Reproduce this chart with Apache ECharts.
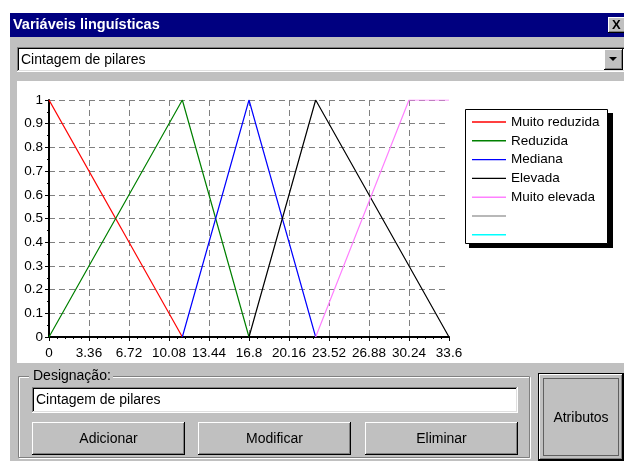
<!DOCTYPE html>
<html><head><meta charset="utf-8">
<script src="https://cdn.jsdelivr.net/npm/echarts@6/dist/echarts.min.js"></script>
<style>html,body{margin:0;padding:0;background:#fff}#c{width:624px;height:461px}</style>
</head><body><div id="c"></div><script>
// ---- data ----
const seriesNames = ['Muito reduzida', 'Reduzida', 'Mediana', 'Elevada', 'Muito elevada', 'Série 6', 'Série 7'];
const muitoReduzida = [[0, 1], [11.2, 0]];
const reduzida = [[0, 0], [11.2, 1], [16.8, 0]];
const mediana = [[11.2, 0], [16.8, 1], [22.4, 0]];
const elevada = [[16.8, 0], [22.4, 1], [33.6, 0]];
const muitoElevada = [[22.4, 0], [30.24, 1], [33.6, 1]];
const serie6 = [];
const serie7 = [];
const xTicks = [0, 3.36, 6.72, 10.08, 13.44, 16.8, 20.16, 23.52, 26.88, 30.24, 33.6];
const yTicks = [0, 0.1, 0.2, 0.3, 0.4, 0.5, 0.6, 0.7, 0.8, 0.9, 1];
const windowTitle = 'Variáveis linguísticas';
const variableName = 'Cintagem de pilares';
const groupLabel = 'Designação:';
const buttonLabels = ['Adicionar', 'Modificar', 'Eliminar'];
const sideButtonLabel = 'Atributos';

// ---- window chrome (graphic elements) ----
const FONT = '"Liberation Sans", Arial, sans-serif';
const G = [];
function px(x, y, w, h, c, z) { G.push({type: 'rect', silent: true, z: z == null ? -8 : z, shape: {x: x, y: y, width: w, height: h}, style: {fill: c}}); }
function sunken(x, y, w, h) {
  px(x, y, w, 1, '#808080', -6); px(x, y, 1, h, '#808080', -6);
  px(x, y + h - 1, w, 1, '#ffffff', -6); px(x + w - 1, y, 1, h, '#ffffff', -6);
  px(x + 1, y + 1, w - 2, 1, '#000000', -6); px(x + 1, y + 1, 1, h - 2, '#000000', -6);
  px(x + 1, y + h - 2, w - 2, 1, '#dfdfdf', -6); px(x + w - 2, y + 1, 1, h - 2, '#dfdfdf', -6);
}
function raised(x, y, w, h) {
  px(x, y, w, h, '#c0c0c0', -7);
  px(x, y, w, 1, '#ffffff', -6); px(x, y, 1, h, '#ffffff', -6);
  px(x, y + h - 1, w, 1, '#000000', -6); px(x + w - 1, y, 1, h, '#000000', -6);
  px(x + 1, y + h - 2, w - 2, 1, '#808080', -6); px(x + w - 2, y + 1, 1, h - 2, '#808080', -6);
}
function txt(s, x, y, opt) {
  opt = opt || {};
  G.push({type: 'text', silent: true, z: -5, style: {text: s, x: x, y: y, fill: opt.fill || '#000',
    font: (opt.weight || 'normal') + ' ' + (opt.size || 14) + 'px ' + FONT,
    textAlign: opt.align || 'left', textVerticalAlign: 'middle'}});
}
// dialog body
px(10, 13, 614, 448, '#c0c0c0', -9);
// title bar
px(10, 13, 614, 24, '#000080');
txt(windowTitle, 13, 25, {fill: '#fff', weight: 'bold', size: 14.5});
raised(608, 17, 18, 16);
txt('X', 612, 25.5, {weight: 'bold', size: 13});
// combo box
px(17, 47, 610, 25, '#ffffff');
sunken(17, 47, 610, 25);
txt(variableName, 21, 60, {size: 14});
raised(604, 49, 19, 21);
G.push({type: 'polygon', silent: true, z: -5, shape: {points: [[609, 57], [617, 57], [613, 61]]}, style: {fill: '#000'}});
// chart panel
px(17, 81, 607, 282, '#ffffff');
// group box
G.push({type: 'rect', silent: true, z: -6, shape: {x: 19.5, y: 377.5, width: 511, height: 81}, style: {fill: null, stroke: '#ffffff', lineWidth: 1}});
G.push({type: 'rect', silent: true, z: -6, shape: {x: 18.5, y: 376.5, width: 511, height: 81}, style: {fill: null, stroke: '#808080', lineWidth: 1}});
px(29, 368, 84, 16, '#c0c0c0', -5.5);
txt(groupLabel, 33, 376, {size: 14});
// text input
px(32, 387, 486, 26, '#ffffff');
sunken(32, 387, 486, 26);
txt(variableName, 36, 400, {size: 14});
// buttons
const bx = [32, 198, 365];
buttonLabels.forEach(function (b, i) {
  raised(bx[i], 422, 153, 33);
  txt(b, bx[i] + 76.5, 439, {size: 14, align: 'center'});
});
// side button (default, focused)
px(538, 373, 86, 88, '#000000', -7.5);
raised(539, 374, 84, 86);
px(538, 373, 86, 1, '#000000', -5.8); px(538, 373, 1, 88, '#000000', -5.8);
G.push({type: 'rect', silent: true, z: -5, shape: {x: 543.5, y: 378.5, width: 75, height: 77}, style: {fill: null, stroke: '#000', lineWidth: 1, lineDash: [1, 1]}});
txt(sideButtonLabel, 581, 418, {size: 14, align: 'center'});
// legend box + shadow
G.push({type: 'rect', silent: true, z: 1, shape: {x: 469, y: 113, width: 144, height: 135}, style: {fill: '#000'}});
G.push({type: 'rect', silent: true, z: 1.5, shape: {x: 465.5, y: 109.5, width: 142, height: 134}, style: {fill: '#fff', stroke: '#000', lineWidth: 1}});

// ---- chart ----
const lineColors = ['#ff0000', '#008000', '#0000ff', '#000000', '#ff80ff', '#a0a0a0', '#00ffff'];
const seriesData = [muitoReduzida, reduzida, mediana, elevada, muitoElevada, serie6, serie7];
const gridGray = xTicks.map(function (v, i) { return i === xTicks.length - 1 ? 'rgba(0,0,0,0)' : '#808080'; });
const fmt = function (v) { return String(Math.round(v * 100) / 100); };

const chart = echarts.init(document.getElementById('c'));
chart.setOption({
  animation: false,
  backgroundColor: '#ffffff',
  graphic: {elements: G},
  grid: {left: 49, top: 100, width: 400, height: 237, containLabel: false},
  xAxis: {
    type: 'value', min: xTicks[0], max: xTicks[xTicks.length - 1], interval: xTicks[1] - xTicks[0],
    axisLine: {show: true, onZero: false, lineStyle: {color: '#000', width: 2}},
    axisTick: {show: true, length: 4, lineStyle: {color: '#000'}},
    minorTick: {show: true, splitNumber: 5, length: 2, lineStyle: {color: '#000'}},
    splitLine: {show: true, lineStyle: {color: gridGray, type: [6, 4], width: 1}},
    axisLabel: {color: '#000', fontSize: 13.5, fontFamily: FONT, margin: 9, formatter: fmt, showMinLabel: true, showMaxLabel: true}
  },
  yAxis: {
    type: 'value', min: yTicks[0], max: yTicks[yTicks.length - 1], interval: yTicks[1] - yTicks[0],
    axisLine: {show: true, onZero: false, lineStyle: {color: '#000', width: 2}},
    axisTick: {show: true, length: 4, lineStyle: {color: '#000'}},
    minorTick: {show: true, splitNumber: 2, length: 2, lineStyle: {color: '#000'}},
    splitLine: {show: true, lineStyle: {color: '#808080', type: [6, 4], width: 1}},
    axisLabel: {color: '#000', fontSize: 13.5, fontFamily: FONT, margin: 6, formatter: fmt}
  },
  legend: {
    show: true, orient: 'vertical', left: 472, top: 115, padding: 0, z: 5,
    icon: 'rect', itemWidth: 34, itemHeight: 1.4, itemGap: 4.8, selectedMode: false,
    data: seriesNames,
    formatter: function (n) { return n.indexOf('Série') === 0 ? '' : n; },
    textStyle: {color: '#000', fontSize: 13.5, fontFamily: FONT, lineHeight: 14, height: 14}
  },
  series: seriesNames.map(function (n, i) {
    return {name: n, type: 'line', data: seriesData[i], symbol: 'none', z: 3,
      lineStyle: {color: lineColors[i], width: 1.2}, itemStyle: {color: lineColors[i]}};
  })
});
</script></body></html>
